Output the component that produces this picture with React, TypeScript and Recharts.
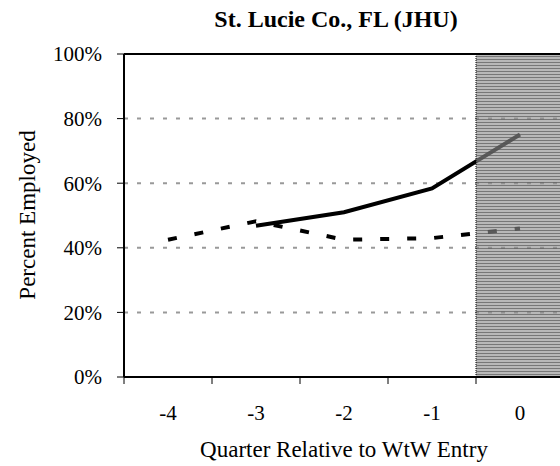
import React from "react"
import { LineChart, Line, XAxis, YAxis, CartesianGrid, ReferenceArea, ReferenceLine } from "recharts"

const quarters = [-4, -3, -2, -1, 0]
const jhuSeries = [null, 46.8, 51.0, 58.4, 75.1]
const compareSeries = [42.5, 48.2, 42.5, 43.0, 46.0]
const yTicks = [0, 20, 40, 60, 80, 100]
const xTicks = [-4.5, -4, -3.5, -3, -2.5, -2, -1.5, -1, -0.5, 0, 0.5]

const data = quarters.map((q, i) => ({ q, solid: jhuSeries[i], dashed: compareSeries[i] }))

const FONT = "'Liberation Serif', 'Times New Roman', serif"

function QuarterTick(props: any) {
  const { x, y, payload } = props
  const v = payload.value
  if (Number.isInteger(v)) {
    return (
      <text x={x} y={y + 43} textAnchor="middle" fontFamily={FONT} fontSize={21} fill="#000">
        {v}
      </text>
    )
  }
  return <line x1={x} y1={y} x2={x} y2={y + 7} stroke="#000" strokeWidth={1} />
}

export default function App() {
  return (
    <div style={{ position: "absolute", left: 0, top: 0, width: 560, height: 466, overflow: "hidden", background: "#fff" }}>
      <LineChart width={580} height={466} data={data} margin={{ top: 54, right: 16, bottom: 29, left: 0 }}>
        <defs>
          <pattern id="stripes" x="0" y="0" width="4" height="3" patternUnits="userSpaceOnUse">
            <rect width="4" height="3" fill="rgba(143,143,143,0.63)" />
            <rect y="2" width="4" height="1" fill="rgba(80,80,80,0.63)" />
          </pattern>
        </defs>
        <CartesianGrid vertical={false} stroke="#999" strokeWidth={2} strokeDasharray="4 9" />
        <XAxis
          dataKey="q"
          type="number"
          domain={[-4.5, 0.5]}
          ticks={xTicks}
          interval={0}
          tickLine={false}
          tickSize={0}
          tickMargin={0}
          height={60}
          axisLine={{ stroke: "#000", strokeWidth: 2 }}
          tick={<QuarterTick />}
          allowDataOverflow
        />
        <YAxis
          domain={[0, 100]}
          ticks={yTicks}
          width={124}
          tickSize={7}
          tickMargin={15}
          tickFormatter={(v: number) => `${v}%`}
          tick={{ fontFamily: FONT, fontSize: 21, fill: "#000" }}
          tickLine={{ stroke: "#000" }}
          axisLine={{ stroke: "#000", strokeWidth: 2 }}
        />
        <Line
          type="linear"
          dataKey="dashed"
          stroke="#000"
          strokeWidth={4}
          strokeDasharray="9 18"
          dot={false}
          isAnimationActive={false}
        />
        <Line
          type="linear"
          dataKey="solid"
          stroke="#000"
          strokeWidth={4}
          dot={false}
          connectNulls={false}
          isAnimationActive={false}
        />
        <ReferenceArea x1={-0.5} x2={0.5} y1={0} y2={100} fill="url(#stripes)" fillOpacity={1} stroke="none" zIndex={450} />
        <ReferenceLine x={-0.5} stroke="#000" strokeDasharray="1 1" strokeWidth={1} zIndex={460} />
        <ReferenceLine y={100} stroke="#000" strokeWidth={2} zIndex={460} />
      </LineChart>
      <svg width={560} height={466} style={{ position: "absolute", left: 0, top: 0, pointerEvents: "none" }}>
        <text x={336} y={27} textAnchor="middle" fontFamily={FONT} fontSize={24} fontWeight="bold" fill="#000">
          St. Lucie Co., FL (JHU)
        </text>
        <text
          x={0}
          y={0}
          transform="translate(35 215) rotate(-90)"
          textAnchor="middle"
          fontFamily={FONT}
          fontSize={23}
          fill="#000"
        >
          Percent Employed
        </text>
        <text x={344} y={457} textAnchor="middle" fontFamily={FONT} fontSize={23} fill="#000">
          Quarter Relative to WtW Entry
        </text>
      </svg>
    </div>
  )
}
